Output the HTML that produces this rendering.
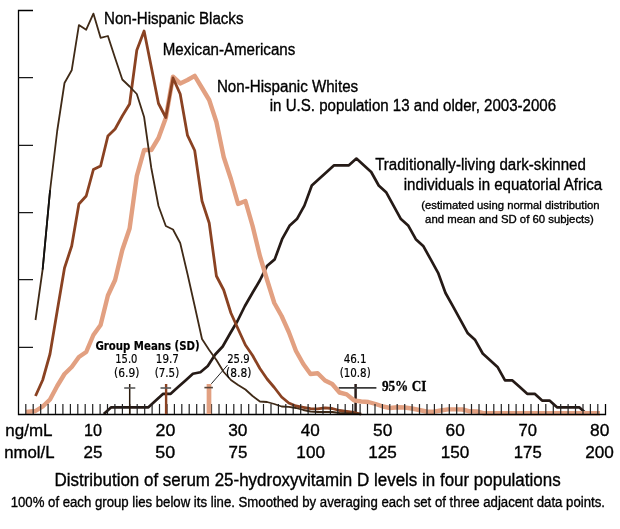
<!DOCTYPE html>
<html><head><meta charset="utf-8"><title>Distribution of serum 25-hydroxyvitamin D levels</title>
<style>
html,body{margin:0;padding:0;background:#fff;width:620px;height:529px;overflow:hidden}
svg{display:block;will-change:transform}

</style></head><body>
<svg width="620" height="529" viewBox="0 0 620 529">
<polyline fill="none" stroke="#251a16" stroke-width="2.7" stroke-linejoin="round" points="103.8,414.0 111.2,407.3 118.6,407.3 126.1,407.3 133.5,407.3 140.9,407.3 148.4,407.3 155.8,400.6 163.2,393.8 170.7,393.8 178.1,387.1 185.5,380.4 192.9,373.7 200.4,372.2 207.8,366.0 215.2,354.5 222.7,346.5 230.1,333.5 237.5,321.0 244.9,306.0 252.4,293.0 259.8,280.5 267.2,265.7 274.7,259.4 282.1,239.2 289.5,225.8 296.9,219.1 304.4,205.6 311.8,185.5 319.2,178.7 326.7,172.0 334.1,165.3 341.5,165.3 348.9,165.3 356.4,158.6 363.8,165.3 371.2,172.0 378.7,185.5 386.1,192.2 393.5,205.6 400.9,219.1 408.4,225.8 415.8,239.2 423.2,245.9 430.7,259.4 438.1,272.8 445.5,293.0 453.0,306.4 460.4,319.9 467.8,333.3 475.2,340.1 482.7,353.5 490.1,360.2 497.5,366.9 505.0,380.4 512.4,380.4 519.8,387.1 527.2,393.8 534.7,393.8 542.1,400.6 549.5,400.6 557.0,407.3 564.4,407.3 571.8,407.3 579.2,407.3 586.7,414.0"/>
<path stroke="#2a1d1a" stroke-width="2.5" d="M355.6,384V414"/>
<path stroke="#3a3a3a" stroke-width="1.6" d="M338.7,387.9H376.4"/>
<polyline fill="none" stroke="#e2a081" stroke-width="4.4" stroke-linejoin="round" points="26.0,412.0 35.5,411.0 42.7,406.5 50.0,399.5 57.2,386.0 64.5,374.0 71.7,367.0 78.9,357.0 86.2,352.0 93.4,335.0 100.6,325.0 107.9,295.5 115.1,280.0 122.3,250.0 129.6,228.5 136.8,176.0 144.1,150.0 151.3,150.0 158.5,138.0 165.8,118.0 173.0,76.6 180.2,83.4 187.5,80.0 194.7,75.9 202.0,88.0 209.2,100.0 216.4,122.0 223.7,157.0 230.9,179.0 238.1,204.0 245.4,201.0 252.6,226.0 259.9,256.0 267.1,280.0 274.3,303.0 281.6,316.0 288.8,332.0 296.0,351.0 303.3,364.0 310.5,374.0 317.7,373.3 325.0,380.5 332.2,384.0 339.5,392.5 346.7,394.4 353.9,400.3 361.2,401.5 368.4,402.0 375.6,404.0 382.9,406.5 390.1,408.0 397.4,407.3 404.6,407.5 411.8,408.5 419.1,410.0 426.3,411.5 433.5,411.7 440.8,410.5 448.0,409.4 455.2,409.4 462.5,409.5 469.7,411.3 477.0,411.5 484.2,413.3 491.4,413.3 498.7,413.3 505.9,413.3 513.1,413.3 520.4,413.3 527.6,413.3 534.9,413.3 542.1,413.3 549.3,413.3 556.6,413.3 563.8,413.3 571.0,413.3 578.3,413.3 585.5,413.3 592.8,413.3 600.0,413.3"/>
<polyline fill="none" stroke="#8a4222" stroke-width="2.8" stroke-linejoin="round" points="35.5,396.0 42.7,380.0 50.0,354.0 57.2,311.0 64.5,268.0 71.7,246.0 78.9,204.0 86.2,196.0 93.4,169.5 100.6,166.0 107.9,136.0 115.1,129.0 122.3,116.0 129.6,104.0 136.8,50.2 144.1,31.0 151.3,67.0 158.5,103.5 165.8,117.5 173.0,78.0 180.2,94.0 187.5,135.4 194.7,150.5 202.0,201.0 209.2,223.0 216.4,276.0 223.7,290.0 230.9,313.0 238.1,329.0 245.4,345.0 252.6,355.5 259.9,368.5 267.1,379.0 274.3,387.5 281.6,397.0 288.8,403.0 296.0,406.0 303.3,407.3 310.5,408.7 317.7,408.8 325.0,407.8 332.2,408.5 339.5,410.5 346.7,411.5 353.9,412.5 361.2,414.2"/>
<polyline fill="none" stroke="#3f2a17" stroke-width="1.8" stroke-linejoin="round" points="35.5,320.0 42.7,269.0 50.0,191.0 57.2,131.0 64.5,83.0 71.7,70.3 78.9,25.1 86.2,29.7 93.4,13.6 100.6,37.8 107.9,36.0 115.1,58.0 122.3,79.5 129.6,86.5 136.8,94.0 144.1,117.0 151.3,168.0 158.5,206.0 165.8,226.0 173.0,229.5 180.2,243.0 187.5,274.0 194.7,306.0 202.0,339.0 209.2,350.0 216.4,360.0 223.7,372.0 230.9,380.0 238.1,385.0 245.4,389.5 252.6,396.0 259.9,401.5 267.1,402.0 274.3,404.0 281.6,406.5 288.8,406.8 296.0,408.0 303.3,410.0 310.5,411.5 317.7,412.0 325.0,412.0 332.2,412.0 339.5,413.0 346.7,413.3 353.9,413.5 361.2,414.2"/>
<path stroke="#111" stroke-width="1.8" stroke-linecap="round" d="M42.7,269L50.0,191"/>
<path fill="none" stroke="#000" stroke-width="1.3" d="M33,10.5 H18.5 V414.5 H605.5 V404"/>
<path fill="none" stroke="#1a1a1a" stroke-width="1.3" d="M18.5,77.6H33M18.5,145.3H33M18.5,212.6H33M18.5,279.6H33M18.5,347.4H33"/>
<path fill="none" stroke="#222" stroke-width="1.2" d="M25.8,404V414M33.2,404V414M40.7,404V414M48.1,404V414M55.5,404V414M62.9,404V414M70.4,404V414M77.8,404V414M85.2,404V414M92.7,404V414M100.1,404V414M107.5,404V414M114.9,404V414M122.4,404V414M129.8,404V414M137.2,404V414M144.7,404V414M152.1,404V414M159.5,404V414M167.0,404V414M174.4,404V414M181.8,404V414M189.2,404V414M196.7,404V414M204.1,404V414M211.5,404V414M219.0,404V414M226.4,404V414M233.8,404V414M241.2,404V414M248.7,404V414M256.1,404V414M263.5,404V414M271.0,404V414M278.4,404V414M285.8,404V414M293.2,404V414M300.7,404V414M308.1,404V414M315.5,404V414M323.0,404V414M330.4,404V414M337.8,404V414M345.2,404V414M352.7,404V414M360.1,404V414M367.5,404V414M375.0,404V414M382.4,404V414M389.8,404V414M397.2,404V414M404.7,404V414M412.1,404V414M419.5,404V414M427.0,404V414M434.4,404V414M441.8,404V414M449.3,404V414M456.7,404V414M464.1,404V414M471.5,404V414M479.0,404V414M486.4,404V414M493.8,404V414M501.3,404V414M508.7,404V414M516.1,404V414M523.5,404V414M531.0,404V414M538.4,404V414M545.8,404V414M553.3,404V414M560.7,404V414M568.1,404V414M575.5,404V414M583.0,404V414M590.4,404V414M597.8,404V414"/>
<path stroke="#2a1a0c" stroke-width="1.5" d="M129.7,384V414"/>
<path stroke="#595959" stroke-width="1.6" d="M124.2,388H135.3"/>
<path stroke="#8a4222" stroke-width="2.4" d="M166.1,384V414"/>
<path stroke="#595959" stroke-width="1.6" d="M160.5,388H171.1"/>
<path stroke="#e2a081" stroke-width="4.7" d="M209,384V414"/>
<path stroke="#56453a" stroke-width="1.6" d="M204.4,387.6H212.9"/>
<path stroke="#222" stroke-width="1" d="M211.3,383.8L227.5,365.2"/>
<g fill="#000">
<text x="104.04" y="23.7" font-family="Liberation Sans, sans-serif" font-size="16" font-weight="normal" textLength="139.43" lengthAdjust="spacingAndGlyphs" stroke="#000" stroke-width="0.35">Non-Hispanic Blacks</text>
<text x="162.74" y="54.6" font-family="Liberation Sans, sans-serif" font-size="16" font-weight="normal" textLength="132.52" lengthAdjust="spacingAndGlyphs" stroke="#000" stroke-width="0.35">Mexican-Americans</text>
<text x="216.96" y="91.7" font-family="Liberation Sans, sans-serif" font-size="16" font-weight="normal" textLength="141.20" lengthAdjust="spacingAndGlyphs" stroke="#000" stroke-width="0.35">Non-Hispanic Whites</text>
<text x="269.77" y="110.9" font-family="Liberation Sans, sans-serif" font-size="16" font-weight="normal" textLength="286.33" lengthAdjust="spacingAndGlyphs" stroke="#000" stroke-width="0.35">in U.S. population 13 and older, 2003-2006</text>
<text x="375.17" y="169.7" font-family="Liberation Sans, sans-serif" font-size="16" font-weight="normal" textLength="210.66" lengthAdjust="spacingAndGlyphs" stroke="#000" stroke-width="0.35">Traditionally-living dark-skinned</text>
<text x="403.77" y="189.7" font-family="Liberation Sans, sans-serif" font-size="16" font-weight="normal" textLength="198.46" lengthAdjust="spacingAndGlyphs" stroke="#000" stroke-width="0.35">individuals in equatorial Africa</text>
<text x="421.20" y="208.6" font-family="Liberation Sans, sans-serif" font-size="11.5" font-weight="normal" textLength="178.38" lengthAdjust="spacingAndGlyphs" stroke="#000" stroke-width="0.35">(estimated using normal distribution</text>
<text x="425.11" y="222.5" font-family="Liberation Sans, sans-serif" font-size="11.5" font-weight="normal" textLength="168.61" lengthAdjust="spacingAndGlyphs" stroke="#000" stroke-width="0.35">and mean and SD of 60 subjects)</text>
<text x="95.49" y="349.6" font-family="DejaVu Sans, sans-serif" font-size="11.5" font-weight="bold" textLength="104.14" lengthAdjust="spacingAndGlyphs" stroke="#000" stroke-width="0.20">Group Means (SD)</text>
<text x="115.26" y="362.9" font-family="DejaVu Sans, sans-serif" font-size="11.5" font-weight="normal" textLength="22.18" lengthAdjust="spacingAndGlyphs" stroke="#000" stroke-width="0.20">15.0</text>
<text x="114.12" y="376.8" font-family="DejaVu Sans, sans-serif" font-size="11.5" font-weight="normal" textLength="25.27" lengthAdjust="spacingAndGlyphs" stroke="#000" stroke-width="0.20">(6.9)</text>
<text x="155.85" y="362.9" font-family="DejaVu Sans, sans-serif" font-size="11.5" font-weight="normal" textLength="23.06" lengthAdjust="spacingAndGlyphs" stroke="#000" stroke-width="0.20">19.7</text>
<text x="154.72" y="376.8" font-family="DejaVu Sans, sans-serif" font-size="11.5" font-weight="normal" textLength="24.48" lengthAdjust="spacingAndGlyphs" stroke="#000" stroke-width="0.20">(7.5)</text>
<text x="227.16" y="362.9" font-family="DejaVu Sans, sans-serif" font-size="11.5" font-weight="normal" textLength="22.44" lengthAdjust="spacingAndGlyphs" stroke="#000" stroke-width="0.20">25.9</text>
<text x="226.12" y="376.8" font-family="DejaVu Sans, sans-serif" font-size="11.5" font-weight="normal" textLength="25.27" lengthAdjust="spacingAndGlyphs" stroke="#000" stroke-width="0.20">(8.8)</text>
<text x="343.65" y="362.9" font-family="DejaVu Sans, sans-serif" font-size="11.5" font-weight="normal" textLength="22.99" lengthAdjust="spacingAndGlyphs" stroke="#000" stroke-width="0.20">46.1</text>
<text x="339.68" y="376.8" font-family="DejaVu Sans, sans-serif" font-size="11.5" font-weight="normal" textLength="31.04" lengthAdjust="spacingAndGlyphs" stroke="#000" stroke-width="0.20">(10.8)</text>
<text x="381.89" y="390.9" font-family="Liberation Serif, serif" font-size="14" font-weight="bold" textLength="44.45" lengthAdjust="spacingAndGlyphs" stroke="#000" stroke-width="0.30">95% CI</text>
<text x="5.33" y="435.5" font-family="Liberation Sans, sans-serif" font-size="17" font-weight="normal" textLength="47.19" lengthAdjust="spacingAndGlyphs" stroke="#000" stroke-width="0.35">ng/mL</text>
<text x="4.19" y="457.5" font-family="Liberation Sans, sans-serif" font-size="17" font-weight="normal" textLength="50.29" lengthAdjust="spacingAndGlyphs" stroke="#000" stroke-width="0.35">nmol/L</text>
<text x="54.47" y="485.6" font-family="Liberation Sans, sans-serif" font-size="17.5" font-weight="normal" textLength="506.15" lengthAdjust="spacingAndGlyphs" stroke="#000" stroke-width="0.35">Distribution of serum 25-hydroxyvitamin D levels in four populations</text>
<text x="10.70" y="506.9" font-family="Liberation Sans, sans-serif" font-size="14" font-weight="normal" textLength="594.21" lengthAdjust="spacingAndGlyphs" stroke="#000" stroke-width="0.35">100% of each group lies below its line. Smoothed by averaging each set of three adjacent data points.</text>
<text x="84.07" y="435.5" font-family="Liberation Sans, sans-serif" font-size="17" font-weight="normal" textLength="17.97" lengthAdjust="spacingAndGlyphs" stroke="#000" stroke-width="0.35">10</text>
<text x="155.54" y="435.5" font-family="Liberation Sans, sans-serif" font-size="17" font-weight="normal" textLength="19.78" lengthAdjust="spacingAndGlyphs" stroke="#000" stroke-width="0.35">20</text>
<text x="228.16" y="435.5" font-family="Liberation Sans, sans-serif" font-size="17" font-weight="normal" textLength="19.25" lengthAdjust="spacingAndGlyphs" stroke="#000" stroke-width="0.35">30</text>
<text x="300.66" y="435.5" font-family="Liberation Sans, sans-serif" font-size="17" font-weight="normal" textLength="19.03" lengthAdjust="spacingAndGlyphs" stroke="#000" stroke-width="0.35">40</text>
<text x="373.10" y="435.5" font-family="Liberation Sans, sans-serif" font-size="17" font-weight="normal" textLength="19.22" lengthAdjust="spacingAndGlyphs" stroke="#000" stroke-width="0.35">50</text>
<text x="445.58" y="435.5" font-family="Liberation Sans, sans-serif" font-size="17" font-weight="normal" textLength="19.22" lengthAdjust="spacingAndGlyphs" stroke="#000" stroke-width="0.35">60</text>
<text x="518.59" y="435.5" font-family="Liberation Sans, sans-serif" font-size="17" font-weight="normal" textLength="18.46" lengthAdjust="spacingAndGlyphs" stroke="#000" stroke-width="0.35">70</text>
<text x="590.14" y="435.5" font-family="Liberation Sans, sans-serif" font-size="17" font-weight="normal" textLength="19.31" lengthAdjust="spacingAndGlyphs" stroke="#000" stroke-width="0.35">80</text>
<text x="83.53" y="457.6" font-family="Liberation Sans, sans-serif" font-size="17" font-weight="normal" textLength="18.94" lengthAdjust="spacingAndGlyphs" stroke="#000" stroke-width="0.35">25</text>
<text x="155.39" y="457.6" font-family="Liberation Sans, sans-serif" font-size="17" font-weight="normal" textLength="19.94" lengthAdjust="spacingAndGlyphs" stroke="#000" stroke-width="0.35">50</text>
<text x="228.47" y="457.6" font-family="Liberation Sans, sans-serif" font-size="17" font-weight="normal" textLength="18.86" lengthAdjust="spacingAndGlyphs" stroke="#000" stroke-width="0.35">75</text>
<text x="296.37" y="457.6" font-family="Liberation Sans, sans-serif" font-size="17" font-weight="normal" textLength="28.62" lengthAdjust="spacingAndGlyphs" stroke="#000" stroke-width="0.35">100</text>
<text x="368.30" y="457.6" font-family="Liberation Sans, sans-serif" font-size="17" font-weight="normal" textLength="28.59" lengthAdjust="spacingAndGlyphs" stroke="#000" stroke-width="0.35">125</text>
<text x="440.69" y="457.6" font-family="Liberation Sans, sans-serif" font-size="17" font-weight="normal" textLength="28.58" lengthAdjust="spacingAndGlyphs" stroke="#000" stroke-width="0.35">150</text>
<text x="513.83" y="457.6" font-family="Liberation Sans, sans-serif" font-size="17" font-weight="normal" textLength="27.89" lengthAdjust="spacingAndGlyphs" stroke="#000" stroke-width="0.35">175</text>
<text x="585.25" y="457.6" font-family="Liberation Sans, sans-serif" font-size="17" font-weight="normal" textLength="28.65" lengthAdjust="spacingAndGlyphs" stroke="#000" stroke-width="0.35">200</text>
</g>
</svg>
</body></html>
